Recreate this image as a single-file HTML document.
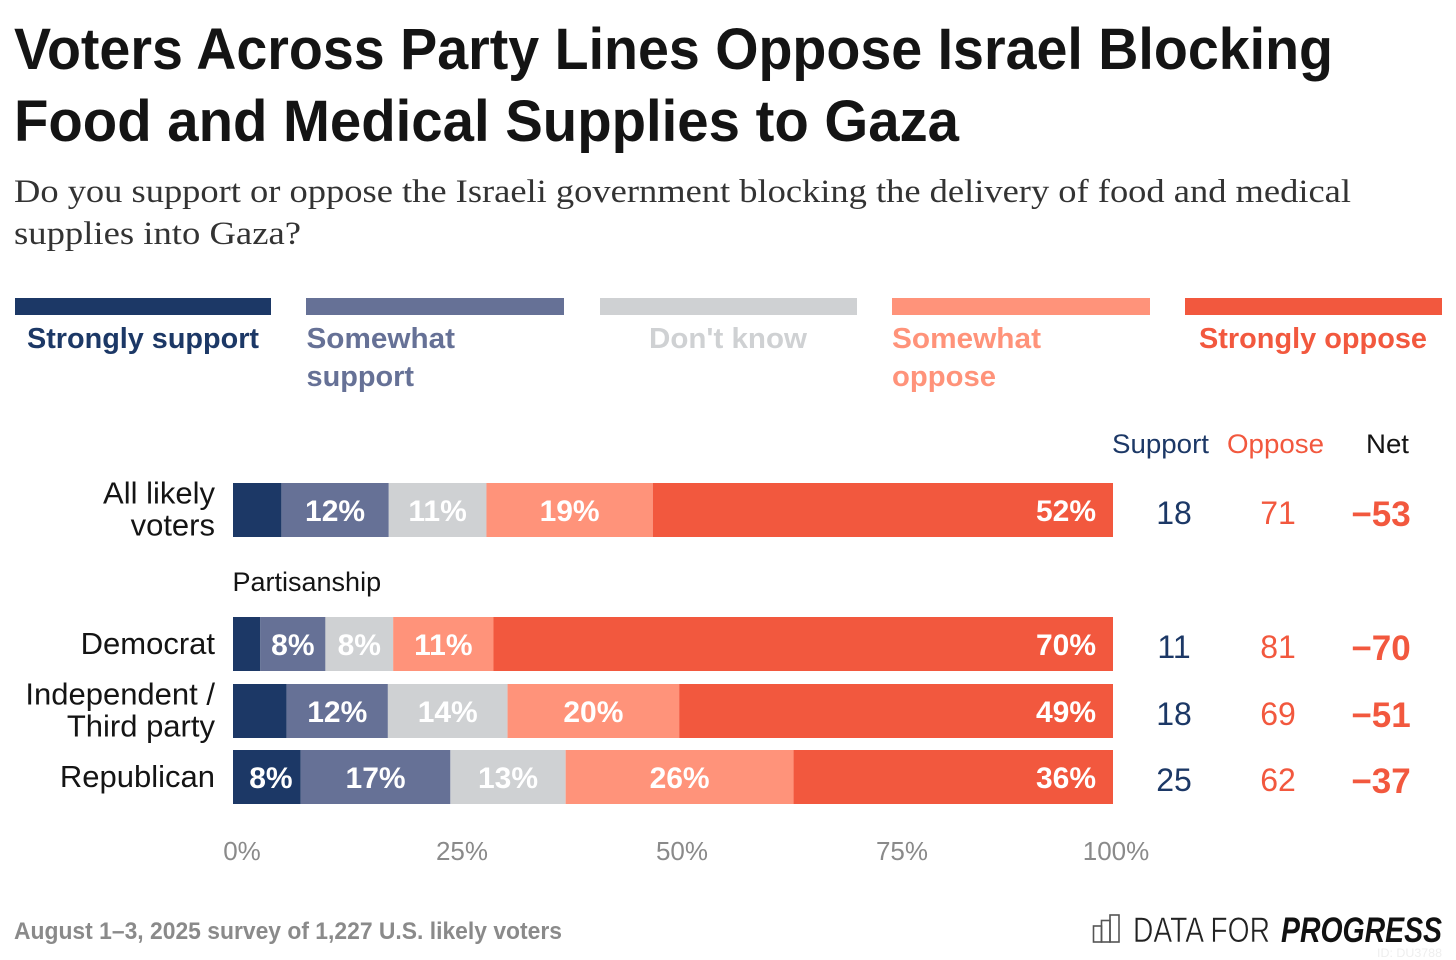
<!DOCTYPE html>
<html lang="en">
<head>
<meta charset="utf-8">
<title>Voters Across Party Lines Oppose Israel Blocking Food and Medical Supplies to Gaza</title>
<style>
html,body{margin:0;padding:0;background:#fff;width:1456px;height:960px;overflow:hidden}
svg{display:block}
text{font-family:"Liberation Sans",sans-serif}
.serif{font-family:"Liberation Serif",serif}
</style>
</head>
<body>
<svg id="chart" xmlns="http://www.w3.org/2000/svg" width="1456" height="960" viewBox="0 0 1456 960">
  <rect x="0" y="0" width="1456" height="960" fill="#fff"/>
  <text x="14" y="69" font-size="58" font-weight="700" fill="#141414" textLength="1319" lengthAdjust="spacingAndGlyphs">Voters Across Party Lines Oppose Israel Blocking</text>
  <text x="14" y="141" font-size="58" font-weight="700" fill="#141414" textLength="945" lengthAdjust="spacingAndGlyphs">Food and Medical Supplies to Gaza</text>
  <text class="serif" x="14" y="202" font-size="33" fill="#333" textLength="1337" lengthAdjust="spacingAndGlyphs">Do you support or oppose the Israeli government blocking the delivery of food and medical</text>
  <text class="serif" x="14" y="244" font-size="33" fill="#333" textLength="287" lengthAdjust="spacingAndGlyphs">supplies into Gaza?</text>

  <g>
    <rect x="15" y="298" width="256" height="17" fill="#1c3866"/>
    <text x="27" y="348" font-size="29" font-weight="700" fill="#1c3866" textLength="232" lengthAdjust="spacingAndGlyphs">Strongly support</text>
    <rect x="306" y="298" width="258" height="17" fill="#667196"/>
    <text x="306.5" y="348" font-size="29" font-weight="700" fill="#667196" textLength="148.5" lengthAdjust="spacingAndGlyphs">Somewhat</text>
    <text x="306.5" y="386" font-size="29" font-weight="700" fill="#667196" textLength="107.5" lengthAdjust="spacingAndGlyphs">support</text>
    <rect x="600" y="298" width="257" height="17" fill="#cfd1d3"/>
    <text x="649" y="348" font-size="29" font-weight="700" fill="#cfd1d3" textLength="158" lengthAdjust="spacingAndGlyphs">Don't know</text>
    <rect x="892" y="298" width="258" height="17" fill="#ff937a"/>
    <text x="892" y="348" font-size="29" font-weight="700" fill="#ff937a" textLength="149" lengthAdjust="spacingAndGlyphs">Somewhat</text>
    <text x="892" y="386" font-size="29" font-weight="700" fill="#ff937a" textLength="104" lengthAdjust="spacingAndGlyphs">oppose</text>
    <rect x="1185" y="298" width="257" height="17" fill="#f2583e"/>
    <text x="1199" y="348" font-size="29" font-weight="700" fill="#f2583e" textLength="228" lengthAdjust="spacingAndGlyphs">Strongly oppose</text>
  </g>

  <text x="1112" y="453" font-size="27" fill="#1c3866" textLength="97" lengthAdjust="spacingAndGlyphs">Support</text>
  <text x="1227" y="453" font-size="27" fill="#f2583e" textLength="97" lengthAdjust="spacingAndGlyphs">Oppose</text>
  <text x="1366" y="453" font-size="27" fill="#141414" textLength="43" lengthAdjust="spacingAndGlyphs">Net</text>

  <g id="rows"></g>
  <g id="ticks"></g>

  <text x="14" y="939" font-size="24" font-weight="700" fill="#8a8a8a" textLength="548" lengthAdjust="spacingAndGlyphs">August 1–3, 2025 survey of 1,227 U.S. likely voters</text>

  <g>
    <g fill="none" stroke="#555" stroke-width="1.6">
      <rect x="1093.5" y="926" width="8" height="16"/>
      <rect x="1101.5" y="920.5" width="8.5" height="21.5"/>
      <rect x="1110" y="915" width="9" height="27"/>
    </g>
    <text x="1133" y="942" font-size="35" fill="#222" stroke="#fff" stroke-width="0.6" textLength="137" lengthAdjust="spacingAndGlyphs">DATA FOR</text>
    <text x="1281" y="942" font-size="35" font-weight="700" font-style="italic" fill="#111" textLength="161" lengthAdjust="spacingAndGlyphs">PROGRESS</text>
  </g>
  <text x="1377" y="957" font-size="12" fill="#eeeeee" textLength="65" lengthAdjust="spacingAndGlyphs">ID: DU3788</text>
</svg>
<script>
// ---- chart data ----
const categories = ["All likely voters", "Partisanship", "Democrat", "Independent / Third party", "Republican"];
const categoryLines = [["All likely", "voters"], ["Partisanship"], ["Democrat"], ["Independent /", "Third party"], ["Republican"]];
const stronglySupport = [5.5, null, 3.1, 6.1, 7.7];
const somewhatSupport = [12.2, null, 7.4, 11.5, 17.0];
const dontKnow = [11.1, null, 7.7, 13.6, 13.1];
const somewhatOppose = [18.9, null, 11.4, 19.5, 25.9];
const stronglyOppose = [52.3, null, 70.4, 49.3, 36.3];
const stronglySupportLabels = ["", "", "", "", "8%"];
const somewhatSupportLabels = ["12%", "", "8%", "12%", "17%"];
const dontKnowLabels = ["11%", "", "8%", "14%", "13%"];
const somewhatOpposeLabels = ["19%", "", "11%", "20%", "26%"];
const stronglyOpposeLabels = ["52%", "", "70%", "49%", "36%"];
const supportTotals = ["18", "", "11", "18", "25"];
const opposeTotals = ["71", "", "81", "69", "62"];
const netTotals = ["−53", "", "−70", "−51", "−37"];
const tickValues = [0, 25, 50, 75, 100];
const tickLabels = ["0%", "25%", "50%", "75%", "100%"];

// ---- axis functions ----
const SVGNS = "http://www.w3.org/2000/svg";
const plotLeft = 233, plotWidth = 880, rowTop = 483, rowStep = 66.85, barHeight = 54;
function xScale(v) { return plotLeft + v / 100 * plotWidth; }
function yScale(i) { return Math.round(rowTop + rowStep * i); }

const seriesList = [
  { key: "strongly-support", values: stronglySupport, labels: stronglySupportLabels, color: "#1c3866" },
  { key: "somewhat-support", values: somewhatSupport, labels: somewhatSupportLabels, color: "#667196" },
  { key: "dont-know", values: dontKnow, labels: dontKnowLabels, color: "#cfd1d3" },
  { key: "somewhat-oppose", values: somewhatOppose, labels: somewhatOpposeLabels, color: "#ff937a" },
  { key: "strongly-oppose", values: stronglyOppose, labels: stronglyOpposeLabels, color: "#f2583e" }
];

function addText(parent, str, x, y, size, fill, anchor, weight) {
  const t = document.createElementNS(SVGNS, "text");
  t.setAttribute("x", x);
  t.setAttribute("y", y);
  t.setAttribute("font-size", size);
  t.setAttribute("fill", fill);
  t.setAttribute("text-anchor", anchor);
  if (weight) t.setAttribute("font-weight", weight);
  t.textContent = str;
  parent.appendChild(t);
  return t;
}

const rowsGroup = document.getElementById("rows");
categories.forEach(function (cat, i) {
  const top = yScale(i);
  const mid = top + barHeight / 2;
  if (stronglySupport[i] === null) {
    const h = addText(rowsGroup, categoryLines[i][0], plotLeft - 0.5, 591, 27, "#141414", "start");
    
    
    return;
  }
  const g = document.createElementNS(SVGNS, "g");
  
  
  rowsGroup.appendChild(g);

  const lines = categoryLines[i];
  lines.forEach(function (line, j) {
    const base = lines.length === 2 ? mid - 6.5 + j * 32 : mid + 10;
    const lab = addText(g, line, 215, base, 31, "#141414", "end");
    
    
  });

  let cum = 0;
  seriesList.forEach(function (s, k) {
    const v = s.values[i];
    const x0 = xScale(cum);
    const x1 = xScale(cum + v);
    const r = document.createElementNS(SVGNS, "rect");
    r.setAttribute("x", x0);
    r.setAttribute("y", top);
    r.setAttribute("width", x1 - x0);
    r.setAttribute("height", barHeight);
    r.setAttribute("fill", s.color);
    
    
    g.appendChild(r);
    const last = k === seriesList.length - 1;
    if (s.labels[i]) {
      const cx = (x0 + x1) / 2 + (k === 0 ? 4 : 0);
      const t = addText(g, s.labels[i], last ? x1 - 17 : cx, mid + 11, 30, "#fff", last ? "end" : "middle", "700");
      
      
    }
    cum += v;
  });

  const sup = addText(g, supportTotals[i], 1174, mid + 14, 32, "#1c3866", "middle");
  
  
  const opp = addText(g, opposeTotals[i], 1278, mid + 14, 32, "#f2583e", "middle");
  
  
  const net = addText(g, netTotals[i], 1381, mid + 16, 35, "#f2583e", "middle", "700");
  
  
});

const ticksGroup = document.getElementById("ticks");
tickValues.forEach(function (tv, i) {
  const t = addText(ticksGroup, tickLabels[i], Math.min(xScale(tv) + 9, 1116), 860, 26, "#8a8a8a", "middle");
  
  
});
</script>
</body>
</html>
